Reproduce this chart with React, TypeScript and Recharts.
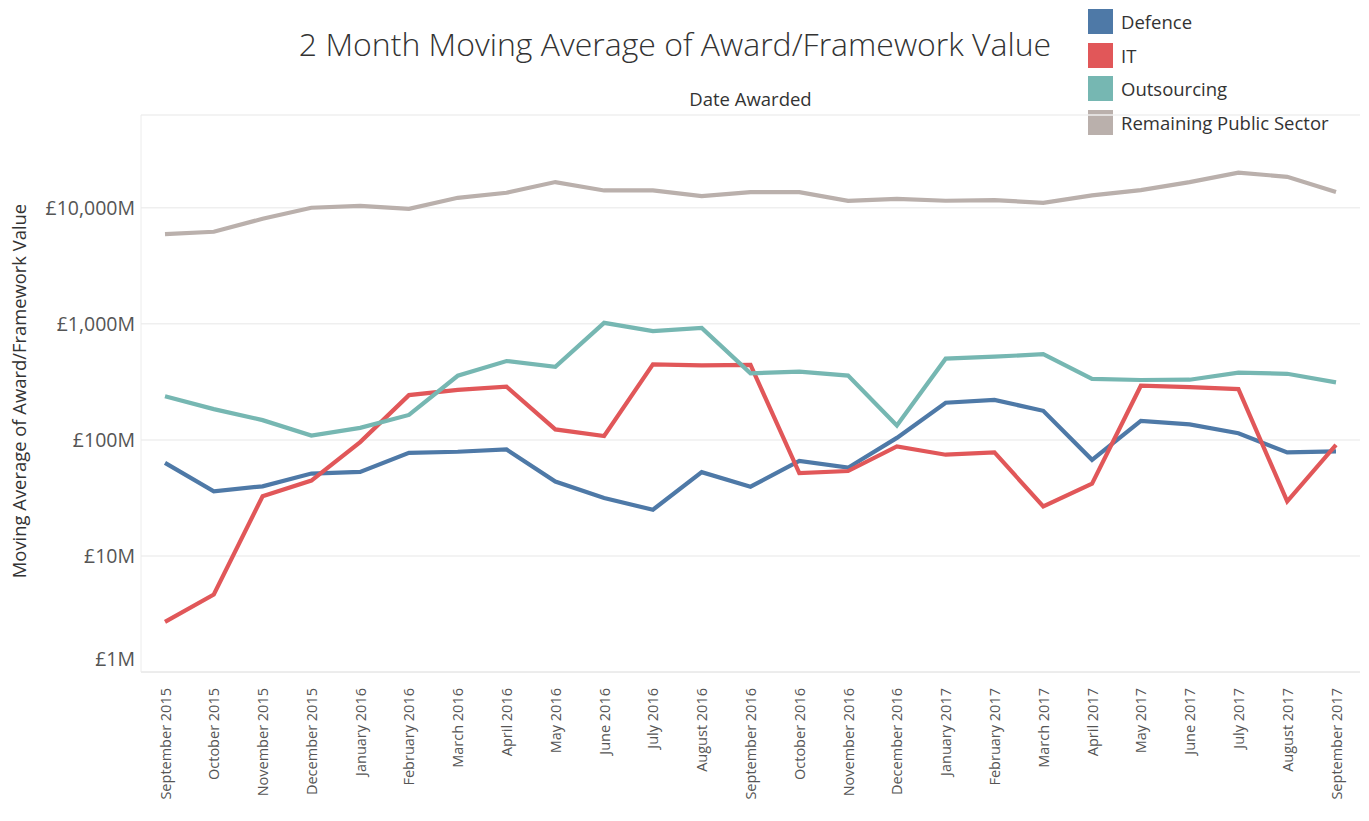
import { LineChart, Line, XAxis, YAxis, CartesianGrid } from "recharts";

const months = [
  "September 2015", "October 2015", "November 2015", "December 2015",
  "January 2016", "February 2016", "March 2016", "April 2016", "May 2016",
  "June 2016", "July 2016", "August 2016", "September 2016", "October 2016",
  "November 2016", "December 2016", "January 2017", "February 2017",
  "March 2017", "April 2017", "May 2017", "June 2017", "July 2017",
  "August 2017", "September 2017",
];

// values in £ millions
const defence = [
  63.4, 36.1, 39.8, 51.3, 53, 77.4, 79, 82.7, 43.7, 31.6, 25, 52.7, 39.5,
  65.9, 57.6, 104, 209, 221, 178, 67.3, 146, 136, 114, 78, 79.6,
];
const it = [
  2.7, 4.65, 32.7, 44.6, 95.7, 243, 270, 287, 123, 108, 448, 439, 442,
  51.8, 53.9, 88, 74.5, 78, 26.7, 42, 293, 285, 274, 29.5, 90.4,
];
const outsourcing = [
  238, 184, 148, 109, 127, 164, 357, 478, 427, 1020, 865, 923, 375,
  388, 358, 133, 501, 521, 547, 335, 328, 330, 380, 371, 313,
];
const remaining = [
  5930, 6210, 8040, 10000, 10400, 9800, 12190, 13470, 16650, 14100, 14100,
  12600, 13650, 13650, 11490, 11950, 11490, 11640, 11040, 12770, 14200,
  16650, 20050, 18490, 13650,
];

const yTicks = [1, 10, 100, 1000, 10000];

const seriesList = [
  { key: "defence", name: "Defence", color: "#4e79a7", values: defence },
  { key: "it", name: "IT", color: "#e15759", values: it },
  { key: "outsourcing", name: "Outsourcing", color: "#76b7b2", values: outsourcing },
  { key: "remaining", name: "Remaining Public Sector", color: "#bab0ac", values: remaining },
];

const data = months.map((m, i) => {
  const row: Record<string, string | number> = { month: m };
  seriesList.forEach((s) => (row[s.key] = s.values[i]));
  return row;
});

const FONT = "'Open Sans', Lato, sans-serif";

function XTick(props: any) {
  const { x, y, payload } = props;
  return (
    <text
      x={x}
      y={y + 8}
      transform={`rotate(-90, ${x}, ${y + 8})`}
      textAnchor="end"
      dominantBaseline="central"
      fontSize={14.5}
      fill="#555"
      fontFamily={FONT}
    >
      {payload.value}
    </text>
  );
}

function YTick(props: any) {
  const { x, y, payload } = props;
  const shift = payload.value === 1 ? -14 : 0;
  return (
    <text
      x={x + 2}
      y={y + shift}
      textAnchor="end"
      dominantBaseline="central"
      fontSize={19.5}
      fill="#555"
      fontFamily={FONT}
    >
      {`£${payload.value.toLocaleString("en-GB")}M`}
    </text>
  );
}

export default function App() {
  return (
    <div style={{ position: "absolute", left: 0, top: 0, width: 1369, height: 821, fontFamily: FONT, background: "#fff" }}>
      <div style={{ position: "absolute", left: 0, width: 1350, top: 22, textAlign: "center", fontSize: 32, color: "#333", fontWeight: 300 }}>
        2 Month Moving Average of Award/Framework Value
      </div>
      <div style={{ position: "absolute", left: 141, width: 1219, top: 86, textAlign: "center", fontSize: 18.5, color: "#333" }}>
        Date Awarded
      </div>
      <div
        style={{
          position: "absolute",
          left: 18,
          top: 391,
          transform: "translate(-50%, -50%) rotate(-90deg)",
          whiteSpace: "nowrap",
          fontSize: 18.4,
          color: "#333",
        }}
      >
        Moving Average of Award/Framework Value
      </div>
      <div style={{ position: "absolute", left: 1088, top: 4.5 }}>
        {seriesList.map((s) => (
          <div key={s.key} style={{ display: "flex", alignItems: "center", height: 33.8 }}>
            <div style={{ width: 25, height: 25, background: s.color, marginRight: 8 }} />
            <span style={{ fontSize: 18.5, color: "#333" }}>{s.name}</span>
          </div>
        ))}
      </div>
      <div style={{ position: "absolute", left: 0, top: 0 }}>
        <LineChart width={1369} height={821} data={data} margin={{ top: 115, right: 9, bottom: 0, left: 0 }}>
          <CartesianGrid vertical={false} stroke="#efefef" strokeWidth={1.5} />
          <XAxis
            dataKey="month"
            interval={0}
            height={149}
            padding={{ left: 24, right: 24 }}
            tick={<XTick />}
            tickLine={false}
            axisLine={{ stroke: "#e6e6e6" }}
          />
          <YAxis
            scale="log"
            domain={[1, 63000]}
            ticks={yTicks}
            allowDataOverflow
            width={141}
            tick={<YTick />}
            tickLine={false}
            axisLine={{ stroke: "#ececec" }}
          />
          {seriesList.map((s) => (
            <Line
              key={s.key}
              dataKey={s.key}
              name={s.name}
              stroke={s.color}
              strokeWidth={4.2}
              dot={false}
              activeDot={false}
              type="linear"
              isAnimationActive={false}
            />
          ))}
        </LineChart>
      </div>
    </div>
  );
}
